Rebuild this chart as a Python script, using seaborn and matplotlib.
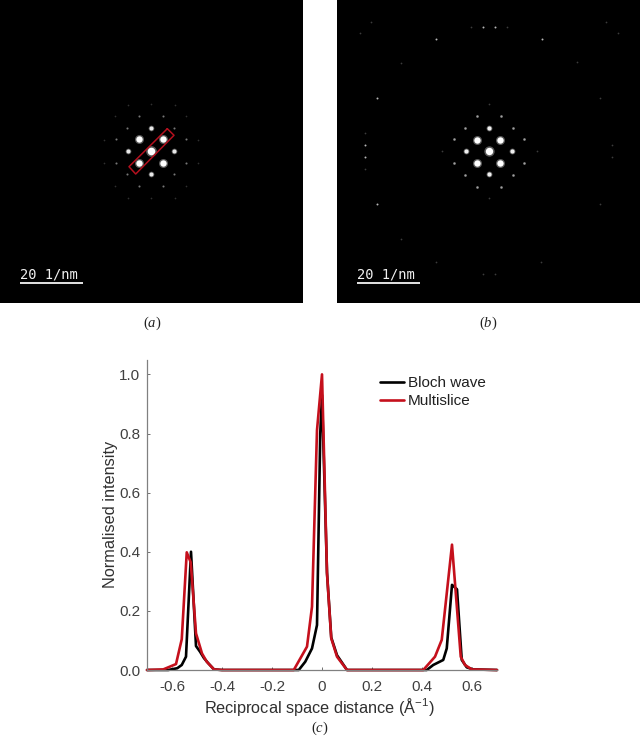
import matplotlib
matplotlib.use("Agg")
import matplotlib.pyplot as plt
import pandas as pd
import seaborn as sns

sns.set_theme(style="white")
plt.rcParams.update({
    "font.family": ["Liberation Sans", "DejaVu Sans"],
    "mathtext.fontset": "custom",
    "mathtext.rm": "Liberation Serif",
    "mathtext.it": "Liberation Serif:italic",
    "mathtext.default": "regular",
    "axes.unicode_minus": False,
})

# Line profile data
bloch_x = [-0.70, -0.615, -0.579, -0.561, -0.544, -0.524, -0.504, -0.488, -0.472, -0.455, -0.432, -0.40,
           -0.093, -0.067, -0.04, -0.02, -0.007, 0.0, 0.02, 0.037, 0.06, 0.10,
           0.419, 0.445, 0.485, 0.499, 0.52, 0.54, 0.559, 0.579, 0.605, 0.70]
bloch_y = [0.0, 0.0, 0.006, 0.017, 0.045, 0.40, 0.081, 0.062, 0.040, 0.023, 0.002, 0.0,
           0.0, 0.028, 0.073, 0.152, 0.80, 0.93, 0.33, 0.11, 0.05, 0.0,
           0.0, 0.017, 0.034, 0.073, 0.288, 0.273, 0.034, 0.009, 0.002, 0.0]
multi_x = [-0.70, -0.635, -0.584, -0.561, -0.541, -0.525, -0.504, -0.48, -0.461, -0.432, -0.40,
           -0.113, -0.06, -0.04, -0.02, 0.0, 0.02, 0.037, 0.06, 0.10,
           0.405, 0.452, 0.479, 0.52, 0.555, 0.572, 0.599, 0.70]
multi_y = [0.0, 0.002, 0.02, 0.104, 0.398, 0.364, 0.124, 0.056, 0.028, 0.002, 0.0,
           0.0, 0.079, 0.214, 0.811, 1.0, 0.327, 0.107, 0.045, 0.0,
           0.0, 0.045, 0.102, 0.424, 0.045, 0.017, 0.002, 0.0]
series_names = ["Bloch wave", "Multislice"]
x_ticks = [-0.6, -0.4, -0.2, 0, 0.2, 0.4, 0.6]
x_tick_labels = ["-0.6", "-0.4", "-0.2", "0", "0.2", "0.4", "0.6"]
y_ticks = [0, 0.2, 0.4, 0.6, 0.8, 1.0]
y_tick_labels = ["0.0", "0.2", "0.4", "0.6", "0.8", "1.0"]

# Panel (a) diffraction spots, image pixel coordinates
a_core_x, a_core_y = [151], [151]
a_big_x = [139.3, 162.7, 139.3, 162.7]
a_big_y = [139.3, 139.3, 162.7, 162.7]
a_mid_x = [151, 151, 127.7, 174.3]
a_mid_y = [127.7, 174.3, 151, 151]
a_small_x = [127.3, 174.3, 127.3, 174.3, 115.7, 186.3, 115.7, 186.3, 139, 162.7, 139, 162.7]
a_small_y = [127.7, 127.7, 174.3, 174.3, 139.3, 139.3, 162.7, 162.7, 115.7, 115.7, 186.3, 186.3]
a_dim_x = [115.3, 186.3, 115.3, 186.3, 151, 151, 104, 198, 104, 198, 127.5, 174.5, 127.5, 174.5]
a_dim_y = [115.7, 115.7, 186.3, 186.3, 104, 198, 139.5, 139.5, 162.5, 162.5, 104.5, 104.5, 197.5, 197.5]
roi_x = [167.3, 174.0, 135.7, 129.0, 167.3]
roi_y = [128.7, 135.3, 174.0, 166.7, 128.7]

# Panel (b) diffraction spots, image pixel coordinates
b_core_x, b_core_y = [152], [151]
b_big_x = [140.3, 163.3, 140.3, 163.3]
b_big_y = [139.7, 139.7, 162.7, 162.7]
b_mid_x = [152, 152, 128.7, 175.3]
b_mid_y = [127.7, 174.3, 151, 151]
b_small_x = [128.3, 175.7, 128.3, 175.7, 116.7, 187.3, 116.7, 187.3, 140, 163.7, 140, 163.7]
b_small_y = [127.7, 127.7, 174.7, 174.7, 139.3, 139.3, 163, 163, 116, 116, 186.7, 186.7]
b_far_x = [146, 157.7, 98.7, 204.7, 39.7, 28, 28, 40]
b_far_y = [27, 27, 38.7, 38.7, 98, 145.3, 157, 204]
b_dim_x = [134.3, 169.7, 263.3, 28, 28, 275.3, 275, 263.3, 99, 204.3, 146, 157.7,
           64, 240, 64.3, 34.3, 22.7, 269.3, 280.7, 105, 200, 152, 152]
b_dim_y = [27, 27, 98.3, 133.3, 168.7, 145.3, 156.7, 204, 262.3, 262.3, 274.3, 274.3,
           62.7, 61.7, 238.7, 21.7, 33.3, 21.7, 33.3, 151, 151, 104, 198.3]

scale_text = "20 1/nm"
scale_x = [19.5, 82.5]
scale_y = [282.7, 282.7]

W, H = 640, 736
fig = plt.figure(figsize=(W / 100, H / 100), dpi=100, facecolor="white")


def px_axes(left, top, right, bottom):
    return fig.add_axes([left / W, 1 - bottom / H, (right - left) / W, (bottom - top) / H])


def spots(ax, x, y, size, gray, halo=True):
    if halo:
        sns.scatterplot(x=x, y=y, s=size * 2.0, color=gray, alpha=0.35, linewidth=0, ax=ax, legend=False)
    sns.scatterplot(x=x, y=y, s=size, color=gray, linewidth=0, ax=ax, legend=False)


def panel(left, right):
    ax = px_axes(left, 0, right, 303)
    ax.set_facecolor("black")
    ax.set_xlim(0, 303)
    ax.set_ylim(303, 0)
    ax.set_xticks([])
    ax.set_yticks([])
    for s in ax.spines.values():
        s.set_visible(False)
    return ax


def finish_panel(ax):
    ax.set_xlim(0, 303)
    ax.set_ylim(303, 0)
    ax.set_xlabel("")
    ax.set_ylabel("")
    ax.plot(scale_x, scale_y, color="#f5f5f5", lw=1.3, solid_capstyle="butt")
    ax.text(20, 274, scale_text, color="#f0f0f0", family="DejaVu Sans Mono", fontsize=9.9,
            ha="left", va="center")


ax_a = panel(0, 303)
spots(ax_a, a_core_x, a_core_y, 30, "white")
spots(ax_a, a_big_x, a_big_y, 21, "white")
spots(ax_a, a_mid_x, a_mid_y, 8.5, "#e8e8e8")
spots(ax_a, a_small_x, a_small_y, 1.6, "#777777")
spots(ax_a, a_dim_x, a_dim_y, 1.5, "#303030", halo=False)
ax_a.plot(roi_x, roi_y, color="#b3101e", lw=1.1)
finish_panel(ax_a)

ax_b = panel(337, 640)
spots(ax_b, b_core_x, b_core_y, 28, "white")
spots(ax_b, b_big_x, b_big_y, 21, "white")
spots(ax_b, b_mid_x, b_mid_y, 9, "#efefef")
spots(ax_b, b_small_x, b_small_y, 2.4, "#a0a0a0")
spots(ax_b, b_far_x, b_far_y, 2, "#b8b8b8", halo=False)
spots(ax_b, b_dim_x, b_dim_y, 1.6, "#3c3c3c", halo=False)
finish_panel(ax_b)

# Panel (c) line profile
ax = px_axes(147, 359.6, 497, 670)
df = pd.concat([
    pd.DataFrame({"x": bloch_x, "y": bloch_y, "method": series_names[0]}),
    pd.DataFrame({"x": multi_x, "y": multi_y, "method": series_names[1]}),
])
sns.lineplot(data=df, x="x", y="y", hue="method", estimator=None, sort=False,
             palette=["#000000", "#c5101c"], linewidth=1.9, ax=ax, clip_on=False)
ax.set_xlim(-0.7, 0.7)
ax.set_ylim(0, 1.05)
ax.set_xticks(x_ticks, x_tick_labels)
ax.set_yticks(y_ticks, y_tick_labels)
ax.tick_params(direction="in", length=2.2, width=0.7, color="#707070", labelcolor="#404040",
               labelsize=11, bottom=True, left=True)
ax.tick_params(axis="x", pad=7.5)
ax.tick_params(axis="y", pad=5)
for name in ["top", "right"]:
    ax.spines[name].set_visible(False)
for name in ["left", "bottom"]:
    ax.spines[name].set_color("#808080")
    ax.spines[name].set_linewidth(0.9)
ax.set_facecolor("white")
ax.set_xlabel("Reciprocal space distance (Å$^{-1}$)", fontsize=11.7, color="#303030", labelpad=1, x=0.491)
ax.set_ylabel("Normalised intensity", fontsize=11.7, color="#303030", labelpad=1)
ax.legend(frameon=False, loc="upper left", bbox_to_anchor=(0.666, 0.947), fontsize=11,
          handlelength=1.57, handletextpad=0.26, labelspacing=0.28, borderaxespad=0, borderpad=0,
          labelcolor="#202020")

# Panel captions
for letter, cx, cy in [("a", 152, 323), ("b", 488, 323), ("c", 320, 728)]:
    fig.text(cx / W, 1 - cy / H, "(" + r"$\mathit{" + letter + "}$" + ")", family="Liberation Serif",
             fontsize=10.5, color="#222222", ha="center", va="center")

fig.savefig("out.png", dpi=100, facecolor="white")
